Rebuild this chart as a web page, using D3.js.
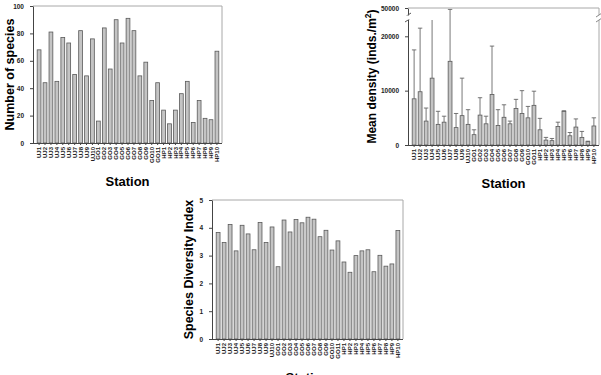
<!DOCTYPE html>
<html>
<head>
<meta charset="utf-8">
<script src="https://cdn.jsdelivr.net/npm/d3@7"></script>
<style>
  body { margin: 0; background: #fff; }
  svg { display: block; font-family: "Liberation Sans", Arial, sans-serif; }
</style>
</head>
<body>
<svg id="chart" width="601" height="375"></svg>
<script>
// Estações
const stations = [
  'UJ1','UJ2','UJ3','UJ4','UJ5','UJ6','UJ7','UJ8','UJ9','UJ10',
  'GO1','GO2','GO3','GO4','GO5','GO6','GO7','GO8','GO9','GO10','GO11',
  'HP1','HP2','HP3','HP4','HP5','HP6','HP7','HP8','HP9','HP10'
];

// Número de espécies
const species = [68,44,81,45,77,73,50,82,49,76, 16,84,54,90,73,91,82,49,59,31,44, 24,14,24,36,45,15,31,18,17,67];

// Densidade média e limite superior da barra de erro
const density = [8500,9800,4400,12300,3800,4200,15400,3200,5400,3800, 1900,5500,3900,9300,3600,5100,3900,6700,5800,5000,7300, 2800,900,800,3400,6200,1700,3300,1400,600,3500];
const densityUpper = [17500,21500,6800,30000,6200,5300,49000,5800,12300,6500, 2800,8700,5300,18200,6500,7400,4400,8400,10000,7100,9900, 4900,1400,1200,4200,6300,2300,4800,2500,700,5000];

// Índice de diversidade
const diversity = [3.83,3.47,4.12,3.17,4.09,3.78,3.21,4.19,3.47,4.03, 2.60,4.28,3.85,4.30,4.18,4.38,4.31,3.68,3.91,3.20,3.53, 2.77,2.40,3.00,3.17,3.21,2.42,3.01,2.62,2.70,3.90];

const speciesTicks = [0,20,40,60,80,100];
const densityTicks = [0,10000,20000,50000];
const diversityTicks = [0,1,2,3,4,5];

const svg = d3.select('#chart');
const barFill = '#c4c4c4', barStroke = '#5a5a5a', frameColor = '#a8a8a8';

/** Desenha um painel de barras */
function drawPanel(opt) {
  const g = svg.append('g');
  const x = d3.scaleBand().domain(stations)
    .range([opt.left + 3, opt.right - 2]).paddingInner(0.36).paddingOuter(0.2);
  const y = opt.y;

  // Moldura clara (topo e direita)
  if (!opt.broken) {
    g.append('path')
      .attr('d', `M${opt.left},${opt.top}H${opt.right}V${opt.bottom}`)
      .attr('fill', 'none').attr('stroke', frameColor).attr('stroke-width', 1);
  }

  // Barras
  g.selectAll('.bar').data(opt.values).enter().append('rect')
    .attr('x', (d, i) => x(stations[i]))
    .attr('width', x.bandwidth())
    .attr('y', d => y(d))
    .attr('height', d => y(0) - y(d))
    .attr('fill', barFill).attr('stroke', barStroke).attr('stroke-width', 0.8);

  // Eixo Y
  const yAxis = g.append('g').attr('transform', `translate(${opt.left},0)`)
    .call(d3.axisLeft(y).tickValues(opt.ticks).tickSize(3).tickSizeOuter(0).tickFormat(d3.format('d')));
  yAxis.selectAll('text').attr('font-size', 6.5).attr('font-weight', 'bold').attr('fill', '#222').attr('dx', -3);
  yAxis.selectAll('line').attr('stroke', '#444');
  yAxis.select('.domain').attr('stroke', '#444');

  // Eixo X
  const xAxis = g.append('g').attr('transform', `translate(0,${opt.bottom})`)
    .call(d3.axisBottom(x).tickSize(2).tickSizeOuter(0));
  xAxis.select('.domain').attr('stroke', '#444')
    .attr('d', `M${opt.left},0.5H${opt.right}`);
  xAxis.selectAll('line').attr('stroke', '#444');
  xAxis.selectAll('text')
    .attr('font-size', 6).attr('font-weight', 'bold').attr('fill', '#222')
    .attr('transform', 'rotate(-90)')
    .attr('text-anchor', 'end')
    .attr('x', -4).attr('y', 0).attr('dy', '0.35em');

  // Títulos
  svg.append('text')
    .attr('x', (opt.left + opt.right) / 2).attr('y', opt.bottom + 43)
    .attr('text-anchor', 'middle').attr('font-size', 13).attr('font-weight', 'bold')
    .text('Station');
  const yl = svg.append('text')
    .attr('transform', `translate(${opt.ylabelX},${(opt.top + opt.bottom) / 2}) rotate(-90)`)
    .attr('text-anchor', 'middle').attr('font-size', opt.ylabelSize || 12.5).attr('font-weight', 'bold');
  if (opt.ylabelSup) {
    yl.append('tspan').text(opt.ylabel);
    yl.append('tspan').attr('baseline-shift', 'super').attr('font-size', 8.5).text(opt.ylabelSup);
    yl.append('tspan').text(')');
  } else {
    yl.text(opt.ylabel);
  }
  return { g, x, y };
}

// Painel 1: número de espécies
drawPanel({
  left: 33, right: 222, top: 6, bottom: 143,
  y: d3.scaleLinear().domain([0, 100]).range([143, 6]),
  values: species, ticks: speciesTicks,
  ylabel: 'Number of species', ylabelX: 14
});

// Painel 2: densidade média com eixo quebrado
const dTop = 8, dBottom = 145, breakLo = 20, breakHi = 15;
const densY = d3.scaleLinear().domain([0, 23000, 45000, 50000]).range([dBottom, breakLo, breakHi, dTop]);
const p2 = drawPanel({
  left: 408, right: 599, top: dTop, bottom: dBottom,
  y: densY, broken: true,
  values: density, ticks: densityTicks,
  ylabel: 'Mean density (inds./m', ylabelSup: '2', ylabelX: 376, ylabelSize: 12
});

// Barras de erro
const capW = 2.2;
density.forEach((v, i) => {
  const cx = p2.x(stations[i]) + p2.x.bandwidth() / 2;
  const up = densityUpper[i];
  const inGap = up > 23000 && up < 45000;
  const yTop = inGap ? breakLo : densY(up);
  p2.g.append('line').attr('x1', cx).attr('x2', cx).attr('y1', densY(v)).attr('y2', yTop)
    .attr('stroke', '#555').attr('stroke-width', 0.8);
  if (!inGap) {
    p2.g.append('line').attr('x1', cx - capW).attr('x2', cx + capW).attr('y1', yTop).attr('y2', yTop)
      .attr('stroke', '#555').attr('stroke-width', 0.8);
  }
});

// Moldura com quebra
const frame = p2.g.append('g').attr('fill', 'none').attr('stroke-width', 1);
frame.append('path').attr('d', `M408,${dTop}H599V${breakHi}`).attr('stroke', frameColor);
frame.append('path').attr('d', `M599,${breakLo}V${dBottom}`).attr('stroke', frameColor);
// esconde o eixo esquerdo na quebra
p2.g.append('rect').attr('x', 405).attr('y', breakHi + 0.5).attr('width', 6).attr('height', breakLo - breakHi - 1).attr('fill', '#fff');
[[408, '#555'], [599, '#888']].forEach(([bx, c]) => {
  [breakHi, breakLo].forEach(by => {
    frame.append('line').attr('x1', bx - 3).attr('x2', bx + 3).attr('y1', by + 2).attr('y2', by - 2)
      .attr('stroke', c);
  });
});

// Painel 3: índice de diversidade
drawPanel({
  left: 212, right: 403, top: 200, bottom: 339,
  y: d3.scaleLinear().domain([0, 5]).range([339, 200]),
  values: diversity, ticks: diversityTicks,
  ylabel: 'Species Diversity Index', ylabelX: 193
});
</script>
</body>
</html>
